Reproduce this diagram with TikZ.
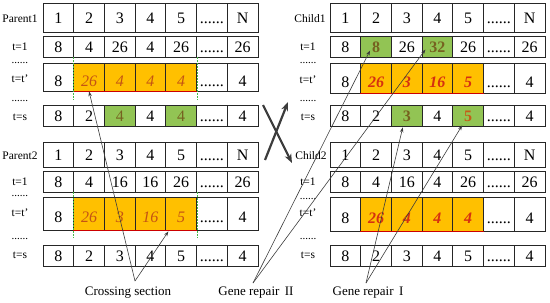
\documentclass[tikz,border=0pt]{standalone}
\usepackage{fontspec}
\setmainfont{Liberation Serif}
\usepackage{xcolor}
\usepackage{tikz}
\usetikzlibrary{arrows.meta,calc}

\definecolor{cellorange}{RGB}{255,192,0}
\definecolor{cellgreen}{RGB}{146,196,84}
\definecolor{partxt}{RGB}{196,84,20}
\definecolor{chdtxt}{RGB}{214,48,16}
\definecolor{olivetxt}{RGB}{118,98,32}
\definecolor{rusttxt}{RGB}{196,92,24}
\definecolor{arrowgray}{RGB}{60,60,60}
\newcommand{\cellfont}{\fontsize{16}{16}\selectfont}
\newcommand{\sixdots}{......}

\begin{document}
\begin{tikzpicture}[x=1pt, y=-1pt,
  cell/.style={draw=black!85, line width=0.8pt, minimum width=30.7pt, minimum height=21pt, inner sep=0pt, text height=11pt, text depth=0pt, font=\cellfont},
  ocell/.style={cell, fill=cellorange, text=partxt, font=\cellfont\itshape},
  rcell/.style={cell, fill=cellorange, text=chdtxt, font=\cellfont\bfseries\itshape},
  gcell/.style={cell, fill=cellgreen, text=olivetxt},
  gbcell/.style={cell, fill=cellgreen, text=olivetxt, font=\cellfont\bfseries},
  gocell/.style={cell, fill=cellgreen, text=rusttxt, font=\cellfont\bfseries},
  lbl/.style={font=\fontsize{11.5}{12}\selectfont, inner sep=0pt},
  dotlbl/.style={font=\fontsize{11}{12}\selectfont, inner sep=0pt, anchor=base},
  note/.style={font=\fontsize{13}{14}\selectfont, inner sep=0pt},
  arrow/.style={-{Stealth[length=5pt, width=3.5pt]}, draw=arrowgray, line width=0.6pt},
  crossarrow/.style={-{Stealth[length=9pt, width=7pt]}, draw=arrowgray, line width=2.2pt},
  cutline/.style={draw=green!45!gray, line width=0.7pt, dash pattern=on 1.5pt off 1.5pt},
  redline/.style={draw=red!80!black, line width=1pt},
]
\useasboundingbox (0,0) rectangle (550,303);

% parent 1
\foreach \v [count=\i] in {1,2,3,4,5,\sixdots,N}
  \node[cell, minimum height=29pt] (p1h\i) at ({43+30.7*(\i-0.5)}, 17.5) {\v};
\foreach \v/\s [count=\i] in {8/cell,4/cell,26/cell,4/cell,26/cell,\sixdots/cell,26/cell}
  \node[\s] (p1a\i) at ({43+30.7*(\i-0.5)}, 46.5) {\v};
\foreach \v/\s [count=\i] in {8/cell,26/ocell,4/ocell,4/ocell,4/ocell,\sixdots/cell,4/cell}
  \node[\s, minimum height=28pt, text height=18pt] (p1b\i) at ({43+30.7*(\i-0.5)}, 77) {\v};
\foreach \v/\s [count=\i] in {8/cell,2/cell,4/gcell,4/cell,4/gcell,\sixdots/cell,4/cell}
  \node[\s] (p1s\i) at ({43+30.7*(\i-0.5)}, 115.5) {\v};
\draw[redline] (p1b2.south west) -- (p1b5.south east);
\draw[cutline] (p1a2.south west) -- ++(0,43);
\draw[cutline] (p1a5.south east) -- ++(0,43);

\node[lbl] (p1name) at (20,19) {Parent1};
\node[lbl] (p1t1) at (20,47) {t=1};
\node[dotlbl] (p1dotsA) at (20,63) {\sixdots};
\node[lbl] (p1tt) at (20,79) {t=t'};
\node[dotlbl] (p1dotsB) at (20,101) {\sixdots};
\node[lbl] (p1ts) at (20,117) {t=s};

% parent 2
\foreach \v [count=\i] in {1,2,3,4,5,\sixdots,N}
  \node[cell, minimum height=25pt] (p2h\i) at ({43+30.7*(\i-0.5)}, 154.5) {\v};
\foreach \v/\s [count=\i] in {8/cell,4/cell,16/cell,16/cell,26/cell,\sixdots/cell,26/cell}
  \node[\s] (p2a\i) at ({43+30.7*(\i-0.5)}, 181.5) {\v};
\foreach \v/\s [count=\i] in {8/cell,26/ocell,3/ocell,16/ocell,5/ocell,\sixdots/cell,4/cell}
  \node[\s, minimum height=33pt, text height=18pt] (p2b\i) at ({43+30.7*(\i-0.5)}, 213.5) {\v};
\foreach \v/\s [count=\i] in {8/cell,2/cell,3/cell,4/cell,5/cell,\sixdots/cell,4/cell}
  \node[\s] (p2s\i) at ({43+30.7*(\i-0.5)}, 255.5) {\v};
\draw[redline] (p2b2.south west) -- (p2b5.south east);
\draw[cutline] (p2a2.south west) -- ++(0,46);
\draw[cutline] (p2a5.south east) -- ++(0,46);

\node[lbl] (p2name) at (20,156) {Parent2};
\node[lbl] (p2t1) at (20,182) {t=1};
\node[dotlbl] (p2dotsA) at (20,196) {\sixdots};
\node[lbl] (p2tt) at (20,213) {t=t'};
\node[dotlbl] (p2dotsB) at (20,239) {\sixdots};
\node[lbl] (p2ts) at (20,255) {t=s};

% child 1
\foreach \v [count=\i] in {1,2,3,4,5,\sixdots,N}
  \node[cell, minimum height=29pt] (c1h\i) at ({330+30.7*(\i-0.5)}, 17.5) {\v};
\foreach \v/\s [count=\i] in {8/cell,8/gbcell,26/cell,32/gbcell,26/cell,\sixdots/cell,26/cell}
  \node[\s] (c1a\i) at ({330+30.7*(\i-0.5)}, 46.5) {\v};
\foreach \v/\s [count=\i] in {8/cell,26/rcell,3/rcell,16/rcell,5/rcell,\sixdots/cell,4/cell}
  \node[\s, minimum height=30pt, text height=18pt] (c1b\i) at ({330+30.7*(\i-0.5)}, 78) {\v};
\foreach \v/\s [count=\i] in {8/cell,2/cell,3/gbcell,4/cell,5/gocell,\sixdots/cell,4/cell}
  \node[\s] (c1s\i) at ({330+30.7*(\i-0.5)}, 115.5) {\v};
\draw[redline] (c1b2.south west) -- (c1b5.south east);

\node[lbl] (c1name) at (310,19) {Child1};
\node[lbl] (c1t1) at (308,47) {t=1};
\node[dotlbl] (c1dotsA) at (308,63) {\sixdots};
\node[lbl] (c1tt) at (308,80) {t=t'};
\node[dotlbl] (c1dotsB) at (308,101) {\sixdots};
\node[lbl] (c1ts) at (308,117) {t=s};

% child 2
\foreach \v [count=\i] in {1,2,3,4,5,\sixdots,N}
  \node[cell, minimum height=25pt] (c2h\i) at ({330+30.7*(\i-0.5)}, 154.5) {\v};
\foreach \v/\s [count=\i] in {8/cell,4/cell,16/cell,4/cell,26/cell,\sixdots/cell,26/cell}
  \node[\s] (c2a\i) at ({330+30.7*(\i-0.5)}, 181.5) {\v};
\foreach \v/\s [count=\i] in {8/cell,26/rcell,4/rcell,4/rcell,4/rcell,\sixdots/cell,4/cell}
  \node[\s, minimum height=34pt, text height=18pt] (c2b\i) at ({330+30.7*(\i-0.5)}, 214) {\v};
\foreach \v/\s [count=\i] in {8/cell,2/cell,3/cell,4/cell,5/cell,\sixdots/cell,4/cell}
  \node[\s] (c2s\i) at ({330+30.7*(\i-0.5)}, 255.5) {\v};
\draw[redline] (c2b2.south west) -- (c2b5.south east);

\node[lbl] (c2name) at (311,156) {Child2};
\node[lbl] (c2t1) at (308,182) {t=1};
\node[dotlbl] (c2dotsA) at (308,199) {\sixdots};
\node[lbl] (c2tt) at (308,213) {t=t'};
\node[dotlbl] (c2dotsB) at (308,239) {\sixdots};
\node[lbl] (c2ts) at (308,255) {t=s};

% crossover arrows
\coordinate (xa1) at (265,160);
\coordinate (xb1) at (288,102);
\coordinate (xa2) at (263,105);
\coordinate (xb2) at (292,163);
\draw[crossarrow] (xa1) -- (xb1);
\draw[crossarrow] (xa2) -- (xb2);

% notes with pointers
\node[note] (cross) at (128,293) {Crossing section};
\coordinate (crossfoot) at (135,281);
\draw[arrow] (crossfoot) -- (p1b2.south);
\draw[arrow] (crossfoot) -- ($(p2b5.south west)+(3,1)$);

\node[note] (repII) at (256,293) {Gene repair \,II};
\coordinate (repIIfoot) at (253,283);
\draw[arrow] (repIIfoot) -- ($(c1a2.center)+(-6,4)$);
\draw[arrow] (repIIfoot) -- ($(c1a4.center)+(-12,3)$);

\node[note] (repI) at (368,293) {Gene repair \,I};
\coordinate (repIfoot) at (366,283);
\draw[arrow] (repIfoot) -- ($(c1s3.south)+(-4,1)$);
\draw[arrow] (repIfoot) -- ($(c1s5.south)+(-6,-1)$);

\end{tikzpicture}
\end{document}
